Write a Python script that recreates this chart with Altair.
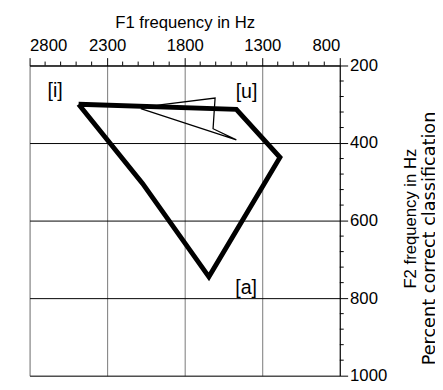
import altair as alt
import pandas as pd

# Vowel quadrilateral (thick), F1 (x) and F2 (y) in Hz
poly_f1 = [2484, 1467, 1186, 1644, 2072, 2484]
poly_f2 = [300, 313, 437, 745, 504, 300]

# Thin trajectory
traj_f1 = [2083, 1946, 1604, 1617, 1467, 2083]
traj_f2 = [311, 301, 284, 363, 392, 311]

# Vowel labels
lab_text = ["[i]", "[u]", "[a]"]
lab_f1 = [2635, 1401, 1404]
lab_f2 = [266, 268, 775]

x_major = [2800, 2300, 1800, 1300, 800]
y_major = [200, 400, 600, 800, 1000]
x_minor = [v for v in range(900, 2800, 100) if v not in x_major]
y_minor = [v for v in range(240, 1000, 40) if v not in y_major]

title_x = "F1 frequency in Hz"
title_y1 = "F2 frequency in Hz"
title_y2 = "Percent correct classification"

FONT = "Liberation Sans"
W, H = 316, 316

xs = alt.Scale(domain=[800, 2800], reverse=True, nice=False, zero=False)
ys = alt.Scale(domain=[200, 1000], reverse=True, nice=False, zero=False)

poly_df = pd.DataFrame({"f1": poly_f1, "f2": poly_f2, "o": range(len(poly_f1))})
traj_df = pd.DataFrame({"f1": traj_f1, "f2": traj_f2, "o": range(len(traj_f1))})
lab_df = pd.DataFrame({"t": lab_text, "f1": lab_f1, "f2": lab_f2})
xm_df = pd.DataFrame({"f1": x_minor})
ym_df = pd.DataFrame({"f2": y_minor})
t1_df = pd.DataFrame({"t": [title_y1]})
t2_df = pd.DataFrame({"t": [title_y2]})

x_axis = alt.Axis(
    orient="top", values=x_major, title=title_x, tickSize=8, format="d",
    tickColor="black", domainColor="black", labelFontSize=17, titleFontSize=17,
    labelFont=FONT, titleFont=FONT, titleFontWeight="normal", labelColor="black",
    titleColor="black", grid=True, gridColor="#777777", labelPadding=3, titlePadding=6,
)
y_axis = alt.Axis(
    orient="right", values=y_major, title=None, format="d",
    tickSize=8, tickColor="black", domainColor="black", labelFontSize=17,
    labelFont=FONT, labelColor="black", grid=True, gridColor="black", labelPadding=2,
)

poly = alt.Chart(poly_df).mark_line(color="black", strokeWidth=5, strokeJoin="miter").encode(
    x=alt.X("f1:Q", scale=xs, axis=x_axis),
    y=alt.Y("f2:Q", scale=ys, axis=y_axis),
    order="o:Q",
)
traj = alt.Chart(traj_df).mark_line(color="black", strokeWidth=1.3).encode(
    x=alt.X("f1:Q", scale=xs), y=alt.Y("f2:Q", scale=ys), order="o:Q"
)
labels = alt.Chart(lab_df).mark_text(font=FONT, fontSize=20, color="black").encode(
    x=alt.X("f1:Q", scale=xs), y=alt.Y("f2:Q", scale=ys), text="t:N"
)
xminor = alt.Chart(xm_df).mark_rule(color="black").encode(
    x=alt.X("f1:Q", scale=xs), y=alt.value(0), y2=alt.value(-4)
)
yminor = alt.Chart(ym_df).mark_rule(color="black").encode(
    y=alt.Y("f2:Q", scale=ys), x=alt.value(W), x2=alt.value(W + 4)
)
title1 = alt.Chart(t1_df).mark_text(
    font=FONT, fontSize=17, color="black", angle=270, align="center", baseline="middle"
).encode(x=alt.value(W + 73), y=alt.value(H / 2 - 2), text="t:N")
title2 = alt.Chart(t2_df).mark_text(
    font="DejaVu Sans", fontSize=18, color="black", angle=270, align="right", baseline="middle"
).encode(x=alt.value(W + 92), y=alt.value(47), text="t:N")

chart = alt.layer(poly, traj, labels, xminor, yminor, title1, title2).properties(
    width=W, height=H,
    autosize=alt.AutoSizeParams(type="none"),
    padding={"left": 22, "top": 55, "right": 97, "bottom": 11},
).configure_view(stroke="#222222", strokeWidth=1.5).configure(background="white")

chart.save("out.html", embed_options={"renderer": "svg", "actions": False})

# keep the page from growing scrollbars where the chart touches the window edge
with open("out.html", encoding="utf-8") as f:
    html = f.read()
html = html.replace("</head>", "<style>html,body{overflow:hidden;}</style>\n</head>", 1)
with open("out.html", "w", encoding="utf-8") as f:
    f.write(html)
